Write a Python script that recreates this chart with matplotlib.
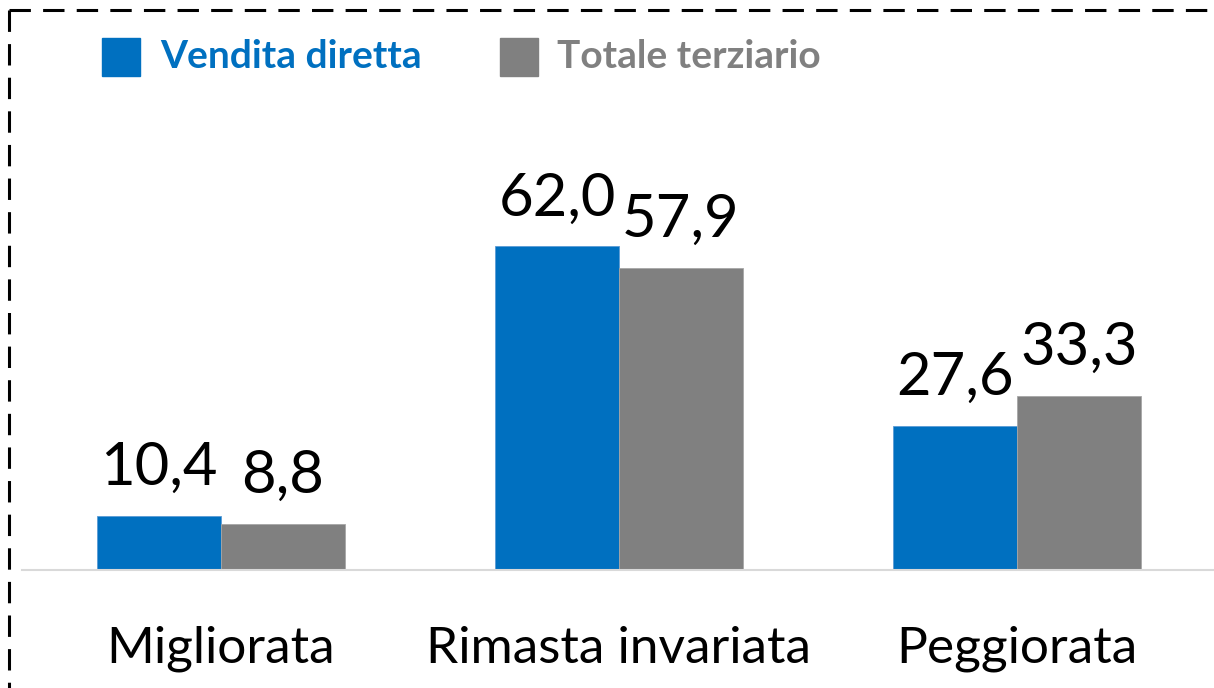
import matplotlib
matplotlib.use("Agg")
import matplotlib.pyplot as plt
import numpy as np
from matplotlib.lines import Line2D
from matplotlib.patches import Rectangle

categories = ["Migliorata", "Rimasta invariata", "Peggiorata"]
series_names = ["Vendita diretta", "Totale terziario"]
vendita = [10.4, 62.0, 27.6]
terziario = [8.8, 57.9, 33.3]

BLUE = "#0070C0"
GRAY = "#808080"
plt.rcParams["font.family"] = ["Lato", "DejaVu Sans"]

W, H = 1214, 688
fig = plt.figure(figsize=(W / 100, H / 100), dpi=100)
ax = fig.add_axes([22 / W, (H - 570) / H, 1194 / W, 470 / H])

x = np.arange(len(categories))
bw = 0.311
b1 = ax.bar(x - bw / 2, vendita, bw, color=BLUE, edgecolor="#5B9BD5", linewidth=0.6)
b2 = ax.bar(x + bw / 2, terziario, bw, color=GRAY, edgecolor="#A6A6A6", linewidth=0.6)

for bars, vals in ((b1, vendita), (b2, terziario)):
    for rect, v in zip(bars, vals):
        ax.annotate(f"{v:.1f}".replace(".", ","),
                    (rect.get_x() + rect.get_width() / 2, rect.get_height()),
                    xytext=(0, 15), textcoords="offset points",
                    ha="center", va="bottom", fontsize=43, color="black")

ax.set_xlim(-0.5, 2.5)
ax.set_ylim(0, 90)
ax.set_xticks(x)
ax.set_xticklabels(categories, fontsize=37)
ax.tick_params(axis="x", length=0, pad=40)
ax.set_yticks([])
for s in ("top", "right", "left"):
    ax.spines[s].set_visible(False)
ax.spines["bottom"].set_color("#D9D9D9")
ax.spines["bottom"].set_linewidth(1.5)

# legend drawn by hand at top left
for sx, tx, name, col in ((102, 160, series_names[0], BLUE), (500, 557, series_names[1], GRAY)):
    fig.patches.append(Rectangle((sx / W, 1 - 76 / H), 38 / W, 38 / H,
                                 transform=fig.transFigure, color=col))
    fig.text(tx / W, 1 - 57 / H, name, fontsize=28, fontweight="bold",
             color=col, va="center", ha="left")

# dashed frame (right and bottom edges fall outside the picture)
dash = dict(color="black", linewidth=2.2, linestyle=(0, (7, 4)), transform=fig.transFigure)
fig.lines.append(Line2D([9 / W, 1.02], [1 - 10 / H, 1 - 10 / H], **dash))
fig.lines.append(Line2D([9 / W, 9 / W], [1 - 10 / H, -0.02], **dash))

fig.savefig("out.png", dpi=100)
